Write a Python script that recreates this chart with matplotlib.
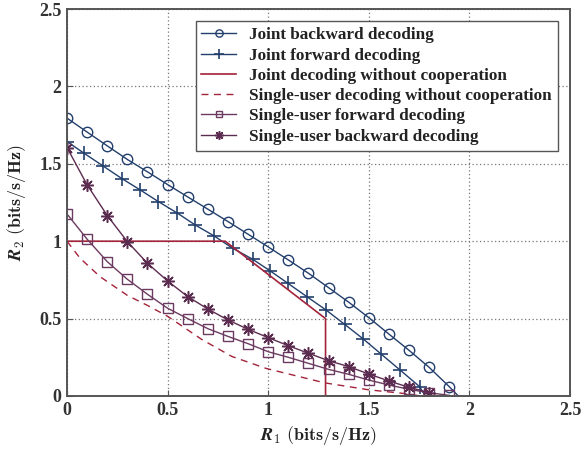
import matplotlib
matplotlib.use("Agg")
import matplotlib.pyplot as plt

# ---- data ----
jb_x = [0.0, 0.1, 0.2, 0.3, 0.4, 0.5, 0.6, 0.7, 0.8, 0.9, 1.0, 1.1, 1.2, 1.3, 1.4, 1.5, 1.6, 1.7, 1.8, 1.9, 1.945]
jb_y = [1.795, 1.705, 1.616, 1.528, 1.448, 1.366, 1.286, 1.207, 1.127, 1.045, 0.963, 0.879, 0.793, 0.700, 0.606, 0.506, 0.400, 0.295, 0.185, 0.060, 0.0]

jf_x = [0.0, 0.085, 0.178, 0.272, 0.363, 0.454, 0.549, 0.637, 0.731, 0.824, 0.922, 1.010, 1.098, 1.192, 1.287, 1.380, 1.471, 1.562, 1.657, 1.753, 1.78]
jf_y = [1.644, 1.568, 1.487, 1.405, 1.332, 1.256, 1.181, 1.105, 1.034, 0.954, 0.884, 0.808, 0.728, 0.642, 0.556, 0.463, 0.370, 0.270, 0.166, 0.060, 0.0]

jnc_x = [0.0, 0.786, 1.285, 1.285, 1.80]
jnc_y = [1.0, 1.0, 0.5, 0.0, 0.0]

snc_x = [0.0, 0.065, 0.164, 0.30, 0.40, 0.50, 0.67, 0.82, 0.99, 1.28, 1.50, 1.67, 1.76]
snc_y = [1.0, 0.89, 0.771, 0.65, 0.585, 0.515, 0.365, 0.255, 0.178, 0.085, 0.040, 0.017, 0.0]

sf_x = [0.0, 0.1, 0.2, 0.3, 0.4, 0.5, 0.6, 0.7, 0.8, 0.9, 1.0, 1.1, 1.2, 1.3, 1.4, 1.5, 1.6, 1.7, 1.8, 1.9]
sf_y = [1.176, 1.013, 0.868, 0.754, 0.657, 0.567, 0.500, 0.435, 0.385, 0.338, 0.286, 0.250, 0.211, 0.172, 0.140, 0.103, 0.071, 0.043, 0.021, 0.004]

sb_x = [0.0, 0.1, 0.2, 0.3, 0.4, 0.5, 0.6, 0.7, 0.8, 0.9, 1.0, 1.1, 1.2, 1.3, 1.4, 1.5, 1.6, 1.7, 1.8]
sb_y = [1.605, 1.364, 1.166, 0.997, 0.857, 0.743, 0.642, 0.562, 0.491, 0.431, 0.377, 0.325, 0.276, 0.228, 0.190, 0.142, 0.097, 0.056, 0.022]

labels = ["Joint backward decoding", "Joint forward decoding",
          "Joint decoding without cooperation", "Single-user decoding without cooperation",
          "Single-user forward decoding", "Single-user backward decoding"]

xticks = [0, 0.5, 1, 1.5, 2, 2.5]
yticks = [0, 0.5, 1, 1.5, 2, 2.5]
xtick_labels = ["0", "0.5", "1", "1.5", "2", "2.5"]
ytick_labels = ["0", "0.5", "1", "1.5", "2", "2.5"]

# ---- style ----
plt.rcParams['mathtext.fontset'] = 'cm'
BLUE = "#233f6c"
RED = "#a3233a"
PURP = "#5c2b50"
PURP2 = "#6c3a60"

fig = plt.figure(figsize=(5.87, 4.51), dpi=100)
ax = fig.add_axes([67/587, 55/451, 503/587, 387/451])

ax.plot(jb_x, jb_y, color=BLUE, lw=1.0, marker='o', ms=7.5, mfc='none', mew=1.0,
        markevery=slice(0, len(jb_x) - 1), label=labels[0])
ax.plot(jf_x, jf_y, color=BLUE, lw=1.0, marker='+', ms=10, mew=1.2,
        markevery=slice(0, len(jf_x) - 1), label=labels[1])
ax.plot(jnc_x, jnc_y, color=RED, lw=1.2, label=labels[2])
ax.plot(snc_x, snc_y, color=RED, lw=1.0, ls=(0, (5, 4)), label=labels[3])
ax.plot(sf_x, sf_y, color=PURP2, lw=1.0, marker='s', ms=6.5, mfc='none', mew=1.0, label=labels[4])
ax.plot(sb_x, sb_y, color=PURP, lw=1.0, marker=(8, 2, 0), ms=9, mew=1.1, label=labels[5])

ax.set_xlim(0, 2.5)
ax.set_ylim(0, 2.5)
ax.set_xticks(xticks)
ax.set_yticks(yticks)
ax.set_xticklabels(xtick_labels, fontfamily='Liberation Serif', fontweight='bold', fontsize=13, color='#333333')
ax.set_yticklabels(ytick_labels, fontfamily='Liberation Serif', fontweight='bold', fontsize=13, color='#333333')
ax.tick_params(direction='in', length=4, width=0.8, color='#555555', pad=4)

ax.grid(True, color='#777777', ls=(0, (1, 2)), lw=0.9)
for s in ax.spines.values():
    s.set_color('#555555')
    s.set_linewidth(1.4)

ax.set_xlabel(r'$\mathbfit{R}_\mathbf{1}\ \mathbf{(bits/s/Hz)}$', fontsize=13, labelpad=4, color='#222222')
ax.set_ylabel(r'$\mathbfit{R}_\mathbf{2}\ \mathbf{(bits/s/Hz)}$', fontsize=13, labelpad=8, color='#222222')

leg = ax.legend(loc='upper right', bbox_to_anchor=(0.976, 0.968), borderaxespad=0,
                prop={'family': 'Liberation Serif', 'weight': 'bold', 'size': 12.3},
                fancybox=False, framealpha=1, edgecolor='#555555', markerscale=0.7,
                handlelength=2.0, labelspacing=0.25, borderpad=0.35, handletextpad=0.8)
leg.get_frame().set_linewidth(1.0)
for t in leg.get_texts():
    t.set_color('#222222')

fig.savefig("out.png", dpi=100)
